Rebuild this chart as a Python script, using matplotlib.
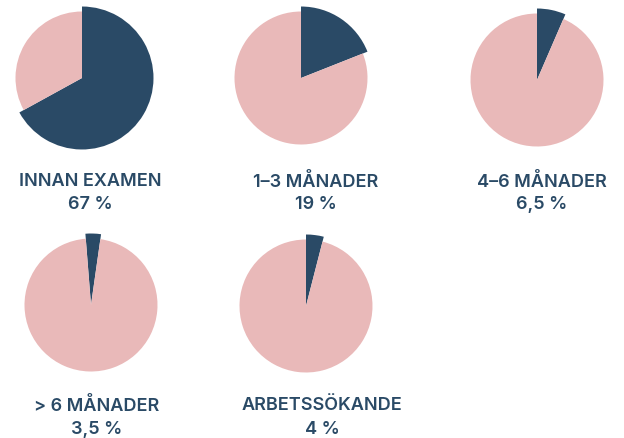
import matplotlib
matplotlib.use("Agg")
import matplotlib.pyplot as plt

categories = ["INNAN EXAMEN", "1–3 MÅNADER", "4–6 MÅNADER", "> 6 MÅNADER", "ARBETSSÖKANDE"]
shares = [67, 19, 6.5, 3.5, 4]
share_labels = ["67 %", "19 %", "6,5 %", "3,5 %", "4 %"]

navy = "#2a4a66"
pink = "#e9b9b9"

W, H = 624, 438
fig = plt.figure(figsize=(W / 100, H / 100), dpi=100)

# pie centres (px from top-left), label centre x, label rows y
pie_pos = [(82, 78), (301, 78), (537, 80), (91, 305), (306, 306)]
label_x = [90, 316, 542, 97, 322]
label_y = [182, 182, 182, 406, 406]
start = [90, 90, 90, 94.5, 90]
R = 66.5

for i, cat in enumerate(categories):
    cx, cy = pie_pos[i]
    half = R * 1.2
    ax = fig.add_axes([(cx - half) / W, 1 - (cy + half) / H, 2 * half / W, 2 * half / H])
    wedges, _ = ax.pie([shares[i], 100 - shares[i]], colors=[navy, pink],
                       startangle=start[i], counterclock=False, radius=1.0)
    wedges[0].set_radius(1.075)
    ax.set_xlim(-1.2, 1.2)
    ax.set_ylim(-1.2, 1.2)
    ax.set_aspect("equal")
    ax.axis("off")

    fig.text(label_x[i] / W, 1 - label_y[i] / H, cat, ha="center", va="center",
             fontsize=13, fontweight="semibold", family="Inter", color=navy)
    fig.text(label_x[i] / W, 1 - (label_y[i] + 23) / H, share_labels[i], ha="center",
             va="center", fontsize=13, fontweight="semibold", family="Inter", color=navy)

fig.savefig("out.png", dpi=100)
